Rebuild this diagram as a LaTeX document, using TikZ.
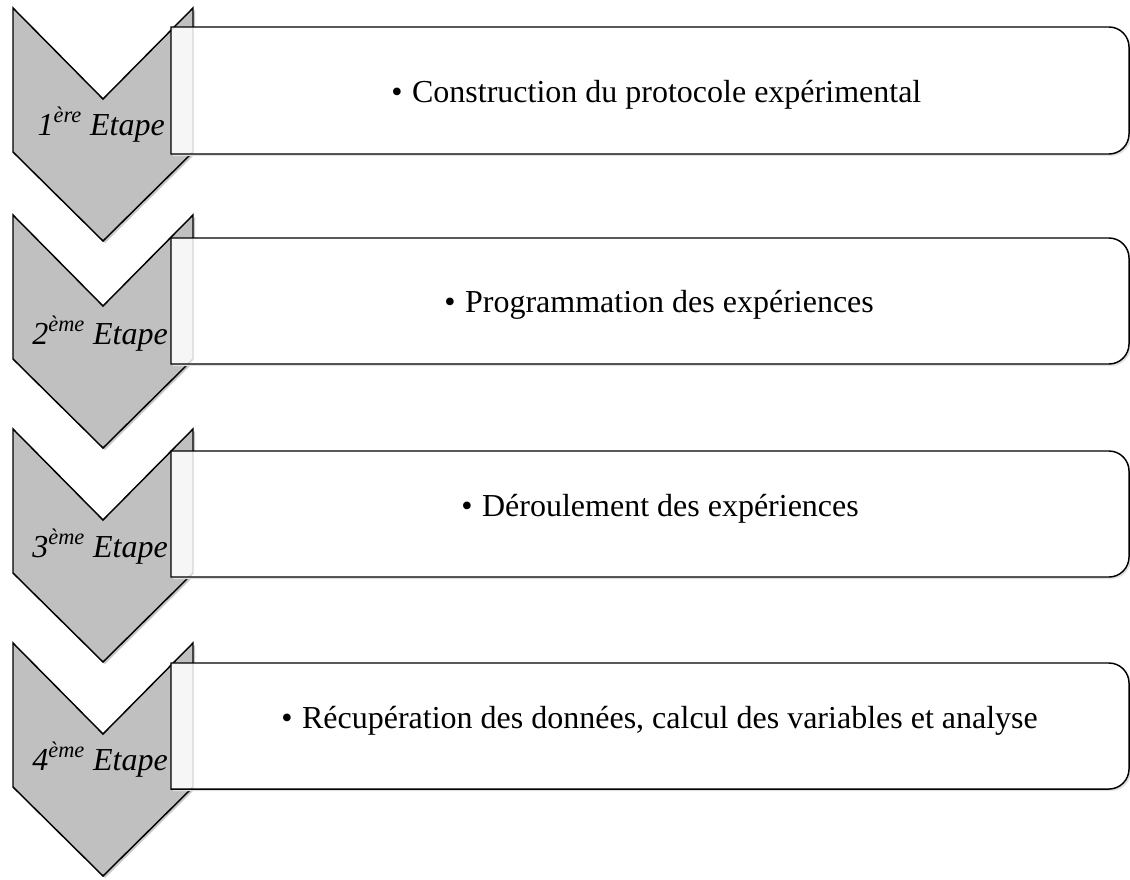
\documentclass[tikz,border=0pt]{standalone}
\usepackage{fontspec}
\setmainfont{Liberation Serif}
\definecolor{chevgray}{RGB}{192,192,192}
\definecolor{chevghost}{RGB}{246,246,246}
\definecolor{edgeghost}{RGB}{215,215,215}
\definecolor{shadowgray}{RGB}{200,200,200}
\definecolor{shadowlight}{RGB}{225,225,225}
\tikzset{
  chev/.style={draw=black, line width=1.1pt, fill=chevgray, line join=miter},
  chevshadow/.style={fill=shadowgray, xshift=1.5pt, yshift=-1.5pt},
  boxfill/.style={fill=white},
  boxline/.style={draw=black, line width=1.1pt},
  boxshadow/.style={fill=shadowlight, xshift=1.5pt, yshift=-1.5pt},
  ghost/.style={fill=chevghost, draw=edgeghost, line width=1.1pt},
  steplabel/.style={anchor=base east, inner sep=0pt, font=\fontsize{24}{28}\selectfont\itshape},
  steptext/.style={anchor=base west, inner sep=0pt, font=\fontsize{24}{28}\selectfont}
}
\newcommand{\chevronpath}[1]{(13,#1) -- (103,#1+91) -- (193,#1) -- (193,#1+144) -- (103,#1+233) -- (13,#1+144) -- cycle}
\newcommand{\roundboxpath}[2]{(171,#1) -- (1109,#1) .. controls (1120,#1) and (1129,#1+9) .. (1129,#1+20)
    -- (1129,#2-20) .. controls (1129,#2-9) and (1120,#2) .. (1109,#2) -- (171,#2) -- cycle}
% #1 chevron top, #2 box top, #3 box bottom
\newcommand{\stepshape}[3]{%
  \path[chevshadow] \chevronpath{#1};
  \path[chev] \chevronpath{#1};
  \path[boxshadow] \roundboxpath{#2}{#3};
  \path[boxfill] \roundboxpath{#2}{#3};
  \begin{scope}
    \clip \roundboxpath{#2}{#3};
    \path[ghost] \chevronpath{#1};
  \end{scope}
  \path[boxline] \roundboxpath{#2}{#3};}
\begin{document}
\begin{tikzpicture}[x=0.75pt, y=-0.75pt]
\useasboundingbox (0,0) rectangle (1130,879);
% step 1
\stepshape{8}{27}{154}
\node[steplabel] (l1) at (165,135) {1\textsuperscript{ère} Etape};
\node[steptext] (t1) at (391,102) {•\hspace{0.3em}Construction du protocole expérimental};
% step 2
\stepshape{215}{238}{364}
\node[steplabel] (l2) at (168,344) {2\textsuperscript{ème} Etape};
\node[steptext] (t2) at (444,312) {•\hspace{0.3em}Programmation des expériences};
% step 3
\stepshape{429}{451}{577}
\node[steplabel] (l3) at (168,557) {3\textsuperscript{ème} Etape};
\node[steptext] (t3) at (461,516) {•\hspace{0.3em}Déroulement des expériences};
% step 4
\stepshape{643}{663}{789}
\node[steplabel] (l4) at (168,770) {4\textsuperscript{ème} Etape};
\node[steptext] (t4) at (281,728) {•\hspace{0.3em}Récupération des données, calcul des variables et analyse};
\end{tikzpicture}
\end{document}
